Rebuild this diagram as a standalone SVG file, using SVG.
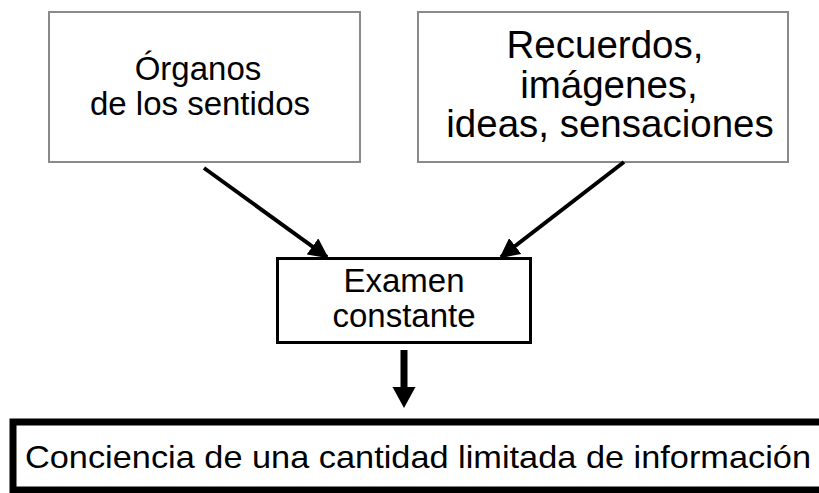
<svg xmlns="http://www.w3.org/2000/svg" width="819" height="493" viewBox="0 0 819 493">
<defs>
<style>
.t{font-family:"Liberation Sans",Arial,sans-serif;fill:#000;text-anchor:middle}
.gray{fill:#fff;stroke:#8a8a8a;stroke-width:2}
.conn{stroke:#000;stroke-width:4;fill:none}
</style>
<marker id="ah" viewBox="0 0 10 10" refX="9" refY="5" markerWidth="5" markerHeight="5" markerUnits="strokeWidth" orient="auto">
<path d="M0,0 L10,5 L0,10 z" fill="#000"/>
</marker>
</defs>
<rect width="819" height="493" fill="#fff"/>
<g id="organos">
<rect class="gray" x="49" y="12" width="311" height="150"/>
<text class="t" x="198" y="80" font-size="33">Órganos</text>
<text class="t" x="200" y="115" font-size="33">de los sentidos</text>
</g>
<g id="recuerdos">
<rect class="gray" x="418" y="12" width="370" height="150"/>
<text class="t" x="605" y="58" font-size="38.5">Recuerdos,</text>
<text class="t" x="609" y="98" font-size="38.5">imágenes,</text>
<text class="t" x="610" y="137" font-size="38.5">ideas, sensaciones</text>
</g>
<g id="examen">
<rect x="277.5" y="258.5" width="253" height="84" fill="#fff" stroke="#000" stroke-width="3"/>
<text class="t" x="404" y="292" font-size="33">Examen</text>
<text class="t" x="404" y="327" font-size="33">constante</text>
</g>
<g id="conciencia">
<rect x="13" y="422" width="830" height="68" fill="#fff" stroke="#000" stroke-width="7"/>
<text x="25" y="468" font-size="32" textLength="786" lengthAdjust="spacingAndGlyphs" style="font-family:'Liberation Sans',Arial,sans-serif">Conciencia de una cantidad limitada de información</text>
</g>
<g id="connectors">
<line class="conn" x1="204" y1="168" x2="327" y2="257" marker-end="url(#ah)"/>
<line class="conn" x1="624" y1="162" x2="501" y2="257" marker-end="url(#ah)"/>
<rect x="400.5" y="350" width="7" height="38" fill="#000"/>
<path d="M392.5,387 L415.5,387 L404,408 z" fill="#000"/>
</g>
</svg>
